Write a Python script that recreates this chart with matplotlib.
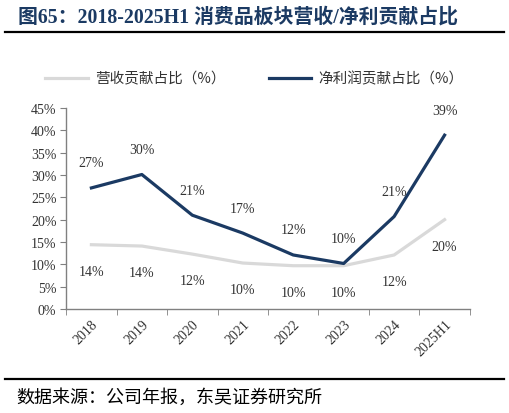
import matplotlib
matplotlib.use("Agg")
import matplotlib.pyplot as plt
import numpy as np

plt.rcParams['font.family'] = ['Liberation Serif', 'Noto Sans CJK SC', 'DejaVu Sans']

years = ['2018', '2019', '2020', '2021', '2022', '2023', '2024', '2025H1']
revenue_share = [14.4, 14.1, 12.3, 10.3, 9.7, 9.7, 12.1, 20.0]
profit_share = [27.1, 30.1, 21.0, 17.0, 12.1, 10.2, 20.7, 38.9]
revenue_labels = ['14%', '14%', '12%', '10%', '10%', '10%', '12%', '20%']
profit_labels = ['27%', '30%', '21%', '17%', '12%', '10%', '21%', '39%']

navy = '#1b3a63'
grey = '#d9d9d9'
cjk = ['Noto Sans CJK SC', 'DejaVu Sans']

fig = plt.figure(figsize=(5.09, 4.14), dpi=100)
ax = fig.add_axes([0.130, 0.251, 0.793, 0.486])

x = np.arange(len(years))
ax.plot(x, revenue_share, color=grey, lw=2.3, label='营收贡献占比（%）')
ax.plot(x, profit_share, color=navy, lw=2.3, label='净利润贡献占比（%）')

for xi, v, t in zip(x, profit_share, profit_labels):
    ax.annotate(t, (xi, v), xytext=(0, 18), textcoords='offset points',
                ha='center', va='center', fontsize=10, color='#333333')
for xi, v, t in zip(x, revenue_share, revenue_labels):
    ax.annotate(t, (xi, v), xytext=(0, -19), textcoords='offset points',
                ha='center', va='center', fontsize=10, color='#333333')

ax.set_xlim(-0.5, len(years) - 0.5)
ax.set_ylim(0, 45)
ax.set_yticks(np.arange(0, 46, 5))
ax.set_yticklabels([f'{v}%' for v in range(0, 46, 5)], fontsize=10, color='#333333')
ax.set_xticks(x)
ax.set_xticklabels(years, rotation=45, ha='right', rotation_mode='anchor',
                   fontsize=10, color='#333333')
ax.set_xticks(np.arange(-0.5, len(years), 1), minor=True)
ax.tick_params(axis='x', which='major', length=0, pad=6)
ax.tick_params(axis='x', which='minor', length=4, color='#808080', direction='out')
ax.tick_params(axis='y', length=4, color='#808080', direction='out', pad=3)

for s in ['top', 'right']:
    ax.spines[s].set_visible(False)
for s in ['left', 'bottom']:
    ax.spines[s].set_color('#808080')
    ax.spines[s].set_linewidth(1)

leg = fig.legend(loc='center', bbox_to_anchor=(0.50, 0.808), ncol=2, frameon=False,
                 prop={'family': cjk, 'size': 10.5}, handlelength=2.9, columnspacing=3.0,
                 handletextpad=0.5)
for t in leg.get_texts():
    t.set_color('#333333')

fig.text(0.035, 0.957, '图65：2018-2025H1 消费品板块营收/净利贡献占比', fontsize=14.3,
         fontweight='bold', color=navy, ha='left', va='center')
fig.add_artist(plt.Line2D([0.01, 0.99], [0.920, 0.920], color='black', lw=1.6))
fig.add_artist(plt.Line2D([0.01, 0.99], [0.082, 0.082], color='black', lw=1.6))
fig.text(0.033, 0.039, '数据来源：公司年报，东吴证券研究所', fontsize=13,
         family=cjk, color='black', ha='left', va='center')

fig.savefig('out.png', dpi=100)
